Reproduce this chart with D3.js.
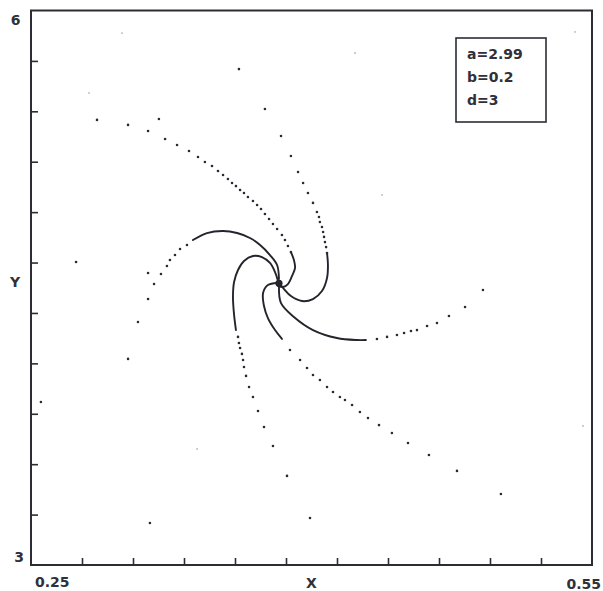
<!DOCTYPE html>
<html lang="en">
<head>
<meta charset="utf-8">
<script src="https://d3js.org/d3.v7.min.js"></script>
<style>
body { margin: 0; background: #fff; }
svg { display: block; }
.lbl { font-family: "DejaVu Sans", sans-serif; font-weight: bold; font-size: 14px; fill: #30303a; }
.axis path { display: none; }
.axis line { stroke: #2c2c34; stroke-width: 1.6; }
</style>
</head>
<body>
<script>
// parameter box
var params = ["a=2.99", "b=0.2", "d=3"];

// axis ends and their labels
var xEnds = [0.25, 0.55], xEndLabels = ["0.25", "0.55"];
var yEnds = [3, 6], yEndLabels = ["3", "6"];
var nDiv = 11; // unlabelled ticks split each axis in 11

// the point all arms wind into
var centre = [0.3826, 4.524];

// each arm: dense stretch near the centre (reads as a curve) + the sparse dots further out
var armACore = [[0.3821,4.509],[0.3848,4.504],[0.3874,4.520],[0.3896,4.564],[0.3912,4.607],[0.3906,4.650],[0.3890,4.693]];
var armADots = [[0.2853,5.408],[0.3019,5.381],[0.3126,5.348],[0.3217,5.305],[0.3281,5.272],[0.3345,5.240],
  [0.3393,5.207],[0.3430,5.180],[0.3468,5.159],[0.3500,5.132],[0.3527,5.110],[0.3553,5.088],[0.3575,5.067],
  [0.3596,5.050],[0.3618,5.029],[0.3639,5.013],[0.3660,4.991],[0.3687,4.969],[0.3709,4.948],[0.3730,4.926],
  [0.3751,4.899],[0.3773,4.872],[0.3794,4.845],[0.3816,4.818],[0.3842,4.785],[0.3858,4.758],[0.3874,4.726],[0.3890,4.693]];

var armBCore = [[0.3832,4.520],[0.3853,4.493],[0.3890,4.455],[0.3949,4.428],[0.4008,4.439],[0.4056,4.482],
  [0.4083,4.553],[0.4088,4.623],[0.4083,4.688]];
var armBDots = [[0.3612,5.683],[0.3751,5.467],[0.3837,5.321],[0.3890,5.213],[0.3928,5.126],[0.3955,5.067],
  [0.3981,5.013],[0.4008,4.959],[0.4029,4.910],[0.4040,4.883],[0.4045,4.856],[0.4056,4.829],[0.4062,4.802],
  [0.4067,4.775],[0.4072,4.747],[0.4078,4.720],[0.4083,4.688]];

var armCCore = [[0.3826,4.504],[0.3837,4.417],[0.3906,4.342],[0.4008,4.271],[0.4136,4.228],[0.4243,4.217],[0.4291,4.217]];
var armCDots = [[0.4350,4.223],[0.4404,4.234],[0.4457,4.244],[0.4495,4.255],[0.4532,4.266],[0.4564,4.271],
  [0.4618,4.293],[0.4671,4.309],[0.4735,4.347],[0.4821,4.396],[0.4917,4.488]];

var armDCore = [[0.3816,4.526],[0.3767,4.515],[0.3741,4.472],[0.3746,4.401],[0.3767,4.336],[0.3805,4.271],[0.3842,4.223]];
var armDDots = [[0.3885,4.163],[0.3939,4.109],[0.3976,4.066],[0.4008,4.028],[0.4045,4.001],[0.4083,3.963],
  [0.4115,3.936],[0.4152,3.909],[0.4179,3.893],[0.4217,3.866],[0.4259,3.828],[0.4302,3.795],[0.4361,3.757],
  [0.4430,3.714],[0.4516,3.660],[0.4628,3.595],[0.4778,3.509],[0.5013,3.384]];

var armECore = [[0.3821,4.537],[0.3805,4.585],[0.3778,4.634],[0.3735,4.666],[0.3687,4.672],[0.3639,4.645],
  [0.3607,4.596],[0.3586,4.531],[0.3580,4.450],[0.3586,4.353],[0.3596,4.271]];
var armEDots = [[0.3607,4.234],[0.3612,4.201],[0.3618,4.174],[0.3628,4.142],[0.3634,4.109],[0.3639,4.071],
  [0.3650,4.023],[0.3666,3.963],[0.3687,3.909],[0.3714,3.833],[0.3746,3.747],[0.3794,3.644],[0.3869,3.482],[0.3992,3.254]];

var armFCore = [[0.3826,4.547],[0.3816,4.623],[0.3778,4.677],[0.3725,4.731],[0.3671,4.769],[0.3602,4.796],
  [0.3527,4.807],[0.3441,4.796],[0.3366,4.758]];
var armFDots = [[0.3334,4.731],[0.3297,4.710],[0.3270,4.677],[0.3243,4.650],[0.3227,4.618],[0.3195,4.574],
  [0.3158,4.520],[0.3126,4.439],[0.3072,4.315],[0.3019,4.115]];

// loose points away from the arms
var strays = [[0.2741,4.639],[0.3126,4.580],[0.3184,5.413],[0.2553,3.882],[0.3136,3.227]];
var faint = [[0.2810,5.554],[0.2987,5.878],[0.3388,3.628],[0.5452,3.752],[0.4233,5.770],[0.4377,5.002],[0.5409,5.884]];

var cores = [armACore, armBCore, armCCore, armDCore, armECore, armFCore];
var dots = [].concat(armADots, armBDots, armCDots, armDDots, armEDots, armFDots, strays);

var width = 603, height = 591;
var mLeft = 31, mRight = 592, mTop = 10.5, mBottom = 565;

var x = d3.scaleLinear().domain(xEnds).range([mLeft, mRight]);
var y = d3.scaleLinear().domain(yEnds).range([mBottom, mTop]);

var svg = d3.select("body").append("svg")
  .attr("width", width)
  .attr("height", height);

// inward ticks
var xTicks = d3.range(1, nDiv).map(function(k) { return xEnds[0] + k * (xEnds[1] - xEnds[0]) / nDiv; });
var yTicks = d3.range(1, nDiv).map(function(k) { return yEnds[0] + k * (yEnds[1] - yEnds[0]) / nDiv; });

svg.append("g")
  .attr("class", "axis")
  .attr("transform", "translate(0," + mBottom + ")")
  .call(d3.axisBottom(x).tickValues(xTicks).tickSize(-7).tickSizeOuter(0).tickFormat(""));

svg.append("g")
  .attr("class", "axis")
  .attr("transform", "translate(" + mLeft + ",0)")
  .call(d3.axisLeft(y).tickValues(yTicks).tickSize(-7).tickSizeOuter(0).tickFormat(""));

// frame
svg.append("rect")
  .attr("x", mLeft)
  .attr("y", mTop)
  .attr("width", mRight - mLeft)
  .attr("height", mBottom - mTop)
  .style("fill", "none")
  .style("stroke", "#2c2c34")
  .style("stroke-width", 2);

// spiral arms
var line = d3.line()
  .x(function(d) { return x(d[0]); })
  .y(function(d) { return y(d[1]); })
  .curve(d3.curveCatmullRom.alpha(0.5));

svg.selectAll("path.arm")
  .data(cores)
  .enter()
  .append("path")
  .attr("class", "arm")
  .attr("d", line)
  .style("fill", "none")
  .style("stroke", "#24242c")
  .style("stroke-width", 1.9)
  .style("stroke-linecap", "round");

svg.append("circle")
  .attr("cx", x(centre[0]))
  .attr("cy", y(centre[1]))
  .attr("r", 3.6)
  .style("fill", "#24242c");

svg.selectAll("circle.dot")
  .data(dots)
  .enter()
  .append("circle")
  .attr("class", "dot")
  .attr("cx", function(d) { return x(d[0]); })
  .attr("cy", function(d) { return y(d[1]); })
  .attr("r", 1.3)
  .style("fill", "#2a2a36");

svg.selectAll("circle.faint")
  .data(faint)
  .enter()
  .append("circle")
  .attr("class", "faint")
  .attr("cx", function(d) { return x(d[0]); })
  .attr("cy", function(d) { return y(d[1]); })
  .attr("r", 0.9)
  .style("fill", "#b4b4bc");

// end labels
svg.append("text").attr("class", "lbl")
  .attr("x", x(xEnds[0]) + 4).attr("y", 587)
  .text(xEndLabels[0]);
svg.append("text").attr("class", "lbl")
  .attr("x", x(xEnds[1]) + 9).attr("y", 589)
  .attr("text-anchor", "end")
  .text(xEndLabels[1]);
svg.append("text").attr("class", "lbl")
  .attr("x", 19).attr("y", y(yEnds[0]) - 3)
  .attr("text-anchor", "middle")
  .text(yEndLabels[0]);
svg.append("text").attr("class", "lbl")
  .attr("x", 15.5).attr("y", y(yEnds[1]) + 14.5)
  .attr("text-anchor", "middle")
  .text(yEndLabels[1]);

svg.append("text").attr("class", "lbl")
  .attr("x", (mLeft + mRight) / 2).attr("y", 588)
  .attr("text-anchor", "middle")
  .text("X");
svg.append("text").attr("class", "lbl")
  .attr("x", 15).attr("y", 287)
  .attr("text-anchor", "middle")
  .text("Y");

// parameter box
var box = svg.append("g").attr("transform", "translate(456,38)");
box.append("rect")
  .attr("width", 90)
  .attr("height", 84)
  .style("fill", "#fff")
  .style("stroke", "#2c2c34")
  .style("stroke-width", 1.6);
box.selectAll("text")
  .data(params)
  .enter()
  .append("text")
  .attr("class", "lbl")
  .attr("x", 11)
  .attr("y", function(d, i) { return 21 + i * 23; })
  .text(function(d) { return d; });
</script>
</body>
</html>
